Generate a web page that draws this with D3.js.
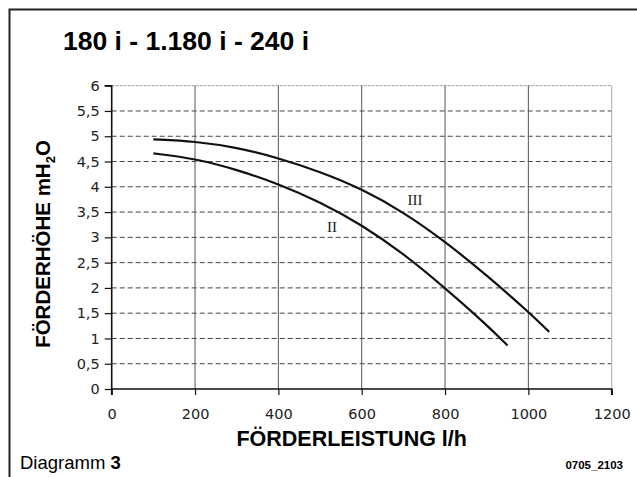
<!DOCTYPE html>
<html>
<head>
<meta charset="utf-8">
<script src="https://cdn.jsdelivr.net/npm/d3@7"></script>
<style>
  html, body { margin: 0; padding: 0; background: #fff; }
  svg { display: block; }
</style>
</head>
<body>
<svg id="chart" width="637" height="477"></svg>
<script>
// Pump curves: delivery head (m H2O) over flow rate (l/h)
const flowII = [100, 200, 300, 400, 500, 600, 700, 800, 900, 950];
const headII = [4.66, 4.56, 4.34, 4.06, 3.70, 3.25, 2.68, 2.00, 1.27, 0.86];
const flowIII = [100, 200, 300, 400, 500, 600, 700, 800, 900, 1000, 1050];
const headIII = [4.94, 4.90, 4.78, 4.57, 4.30, 3.96, 3.50, 2.92, 2.25, 1.53, 1.13];

const xTicks = [0, 200, 400, 600, 800, 1000, 1200];
const yTicks = [0, 0.5, 1, 1.5, 2, 2.5, 3, 3.5, 4, 4.5, 5, 5.5, 6];

const svg = d3.select("#chart");
const plot = { left: 111.7, right: 611.7, top: 85.7, bottom: 389 };

const x = d3.scaleLinear().domain([0, 1200]).range([plot.left, plot.right]);
const y = d3.scaleLinear().domain([0, 6]).range([plot.bottom, plot.top]);

// Page frame (top and left rules)
svg.append("path")
  .attr("d", "M9.5,477 L9.5,9.5 L637,9.5")
  .attr("fill", "none").attr("stroke", "#222").attr("stroke-width", 2);

// Title
svg.append("text")
  .attr("x", 63).attr("y", 49.5)
  .attr("font-family", "Liberation Sans, Arial, sans-serif")
  .attr("font-weight", "bold").attr("font-size", 26.5)
  .attr("fill", "#000")
  .text("180 i - 1.180 i - 240 i");

// Horizontal dashed grid
svg.append("g").selectAll("line")
  .data(yTicks.filter(v => v > 0 && v < 6))
  .join("line")
  .attr("x1", plot.left).attr("x2", plot.right)
  .attr("y1", d => y(d)).attr("y2", d => y(d))
  .attr("stroke", "#444").attr("stroke-width", 1)
  .attr("stroke-dasharray", "5,3");

// Top border of plot (light, dotted)
svg.append("line")
  .attr("x1", plot.left).attr("x2", plot.right)
  .attr("y1", y(6)).attr("y2", y(6))
  .attr("stroke", "#999").attr("stroke-width", 1)
  .attr("stroke-dasharray", "3,1");

// Vertical solid grid
svg.append("g").selectAll("line")
  .data(xTicks.filter(v => v > 0))
  .join("line")
  .attr("x1", d => x(d)).attr("x2", d => x(d))
  .attr("y1", plot.top).attr("y2", plot.bottom)
  .attr("stroke", d => d === 1200 ? "#aaa" : "#555")
  .attr("stroke-width", 1);

// Axes
const yAxis = d3.axisLeft(y).tickValues(yTicks).tickSize(7).tickPadding(5)
  .tickFormat(d => String(d).replace(".", ","));
const xAxis = d3.axisBottom(x).tickValues(xTicks).tickSize(6).tickPadding(14)
  .tickFormat(d => String(d));

const gy = svg.append("g").attr("transform", `translate(${plot.left},0)`).call(yAxis);
const gx = svg.append("g").attr("transform", `translate(0,${plot.bottom})`).call(xAxis);

[gx, gy].forEach(g => {
  g.select(".domain").attr("stroke", "#111").attr("stroke-width", 1.6);
  g.selectAll(".tick line").attr("stroke", "#111").attr("stroke-width", 1.2);
  g.selectAll(".tick text")
    .attr("font-family", "DejaVu Sans, Verdana, sans-serif")
    .attr("font-size", 14.5).attr("fill", "#222");
});
gy.select(".domain").attr("d", `M-7,${y(6)}H0V${plot.bottom}`);
gx.select(".domain").attr("d", `M${plot.left},6V0H${plot.right}V6`);

// Curves
const line = d3.line()
  .x(d => x(d[0])).y(d => y(d[1]))
  .curve(d3.curveBasis);

[[flowII, headII], [flowIII, headIII]].forEach(([fx, hy]) => {
  svg.append("path")
    .datum(d3.zip(fx, hy))
    .attr("d", line)
    .attr("fill", "none").attr("stroke", "#111")
    .attr("stroke-width", 2.2).attr("stroke-linecap", "butt");
});

// Curve labels
svg.append("text").attr("x", 332).attr("y", 231.5).attr("text-anchor", "middle")
  .attr("font-family", "Liberation Serif, Times New Roman, serif").attr("font-size", 15)
  .attr("fill", "#222").text("II");
svg.append("text").attr("x", 415).attr("y", 205).attr("text-anchor", "middle")
  .attr("font-family", "Liberation Serif, Times New Roman, serif").attr("font-size", 15)
  .attr("fill", "#222").text("III");

// Axis titles
svg.append("text")
  .attr("x", (plot.left + plot.right) / 2 - 10).attr("y", 446)
  .attr("text-anchor", "middle")
  .attr("font-family", "Liberation Sans, Arial, sans-serif")
  .attr("font-weight", "bold").attr("font-size", 21.5)
  .text("FÖRDERLEISTUNG l/h");

const yt = svg.append("text")
  .attr("transform", "translate(50,244) rotate(-90)")
  .attr("text-anchor", "middle")
  .attr("font-family", "Liberation Sans, Arial, sans-serif")
  .attr("font-weight", "bold").attr("font-size", 20.5);
yt.append("tspan").text("FÖRDERHÖHE mH");
yt.append("tspan").attr("font-size", 13).attr("dy", 5).text("2");
yt.append("tspan").attr("dy", -5).text("O");

// Footer
const foot = svg.append("text")
  .attr("x", 20).attr("y", 469)
  .attr("font-family", "Liberation Sans, Arial, sans-serif")
  .attr("font-size", 18.5);
foot.append("tspan").text("Diagramm ");
foot.append("tspan").attr("font-weight", "bold").text("3");

svg.append("text")
  .attr("x", 623).attr("y", 469).attr("text-anchor", "end")
  .attr("font-family", "Liberation Sans, Arial, sans-serif")
  .attr("font-weight", "bold").attr("font-size", 11.5)
  .text("0705_2103");
</script>
</body>
</html>
